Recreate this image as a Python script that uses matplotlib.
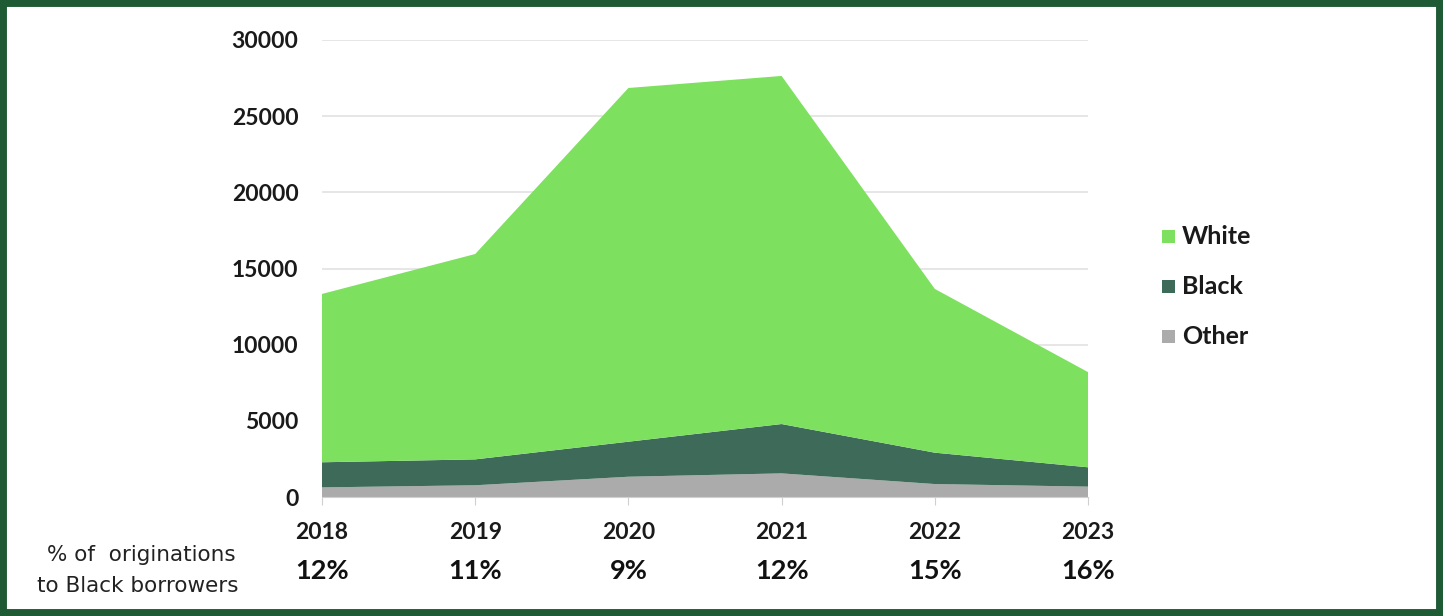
import matplotlib.pyplot as plt
from matplotlib.patches import Rectangle

years = ["2018", "2019", "2020", "2021", "2022", "2023"]
other = [630, 770, 1330, 1550, 850, 680]
black = [1650, 1700, 2300, 3240, 2060, 1270]
white = [11050, 13480, 23220, 22850, 10750, 6250]
pct_black = ["12%", "11%", "9%", "12%", "15%", "16%"]
yticks = [0, 5000, 10000, 15000, 20000, 25000, 30000]
series_names = ["Other", "Black", "White"]
colors = {"White": "#7de05f", "Black": "#3e6b59", "Other": "#ababab"}

plt.rcParams['font.family'] = ['Lato', 'DejaVu Sans']

fig = plt.figure(figsize=(14.43, 6.16), dpi=100)
fig.patch.set_facecolor("white")
fig.patches.append(Rectangle((0, 0), 1, 1, transform=fig.transFigure, fill=False,
                             edgecolor="#1e5a34", linewidth=10, zorder=10))

ax = fig.add_axes([322/1443, 1-497/616, 766/1443, 457/616])
x = list(range(len(years)))
ax.stackplot(x, other, black, white,
             colors=[colors[n] for n in series_names], linewidth=0)
ax.set_xlim(0, len(years)-1)
ax.set_ylim(0, 30000)
ax.set_yticks(yticks)
ax.set_yticklabels([str(v) for v in yticks], fontsize=16.5, fontweight='bold', color="#1a1a1a")
ax.set_xticks(x)
ax.set_xticklabels(years, fontsize=16.5, fontweight='bold', color="#1a1a1a")
ax.tick_params(axis='y', length=0, pad=17)
ax.tick_params(axis='x', length=6, color="#d0d0d0", direction='out', pad=12)
ax.grid(axis='y', color="#e2e2e2", linewidth=1.2)
ax.set_axisbelow(True)
for s in ["top", "right", "left"]:
    ax.spines[s].set_visible(False)
ax.spines["bottom"].set_color("#d0d0d0")

for xi, p in zip(x, pct_black):
    ax.annotate(p, xy=(xi, 0), xycoords=('data', 'axes fraction'),
                xytext=(0, -53), textcoords='offset points', ha='center', va='center',
                fontsize=19.5, fontweight='bold', color="#111111")

fig.text(141/1443, 1-555/616, "% of  originations", ha='center', va='center',
         fontsize=15.5, color="#222222", family=['DejaVu Sans'])
fig.text(138/1443, 1-586/616, "to Black borrowers", ha='center', va='center',
         fontsize=15.5, color="#222222", family=['DejaVu Sans'])

for i, name in enumerate(["White", "Black", "Other"]):
    yy = 1 - (237 + 50*i)/616
    fig.patches.append(Rectangle((1162/1443, yy - 6/616), 13/1443, 13/616,
                                 transform=fig.transFigure, facecolor=colors[name],
                                 edgecolor='none'))
    fig.text(1182/1443, yy, name, ha='left', va='center', fontsize=18,
             fontweight='bold', color="#1a1a1a")

fig.savefig("out.png", dpi=100)
